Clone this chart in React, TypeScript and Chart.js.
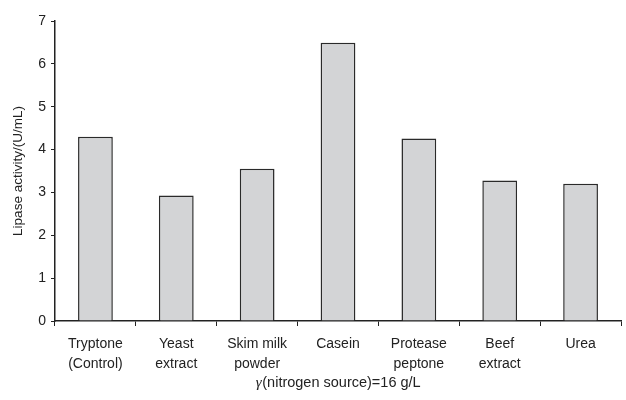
import React, { useEffect, useRef } from "react";
import { Chart, registerables } from "chart.js";

Chart.register(...registerables);

const categories: (string | string[])[] = [
  ["Tryptone", "(Control)"],
  ["Yeast", "extract"],
  ["Skim milk", "powder"],
  "Casein",
  ["Protease", "peptone"],
  ["Beef", "extract"],
  "Urea",
];
const lipaseActivity = [4.3, 2.93, 3.55, 6.49, 4.26, 3.28, 3.2];
const yTicks = [0, 1, 2, 3, 4, 5, 6, 7];
const xTitleSymbol = "γ";
const xTitleRest = "(nitrogen source)=16 g/L";
const yTitle = "Lipase activity/(U/mL)";

const FONT = "'Liberation Sans', Arial, sans-serif";
const INK = "#222222";

const xTitlePlugin = {
  id: "xTitleItalic",
  afterDraw(chart: any) {
    const { ctx, chartArea } = chart;
    const xScale = chart.scales.x;
    ctx.save();
    ctx.fillStyle = INK;
    ctx.textBaseline = "middle";
    const italic = `italic 15px 'Liberation Serif', 'Times New Roman', serif`;
    const normal = `14.5px ${FONT}`;
    ctx.font = italic;
    const w1 = ctx.measureText(xTitleSymbol).width;
    ctx.font = normal;
    const w2 = ctx.measureText(xTitleRest).width;
    const cx = (chartArea.left + chartArea.right) / 2;
    const y = xScale.bottom - 17;
    const x = cx - (w1 + w2) / 2;
    ctx.textAlign = "left";
    ctx.font = italic;
    ctx.fillText(xTitleSymbol, x, y);
    ctx.font = normal;
    ctx.fillText(xTitleRest, x + w1 + 0.5, y);
    ctx.restore();
  },
};

export default function App() {
  const ref = useRef<HTMLCanvasElement | null>(null);
  useEffect(() => {
    document.body.style.margin = "0";
    const ctx = ref.current!.getContext("2d")!;
    const chart = new Chart(ctx, {
      type: "bar",
      data: {
        labels: categories,
        datasets: [
          {
            data: lipaseActivity,
            backgroundColor: "#d3d4d6",
            borderColor: "#2a2a2a",
            borderWidth: 1.5,
            barPercentage: 0.86,
            categoryPercentage: 0.5,
          },
        ],
      },
      plugins: [xTitlePlugin],
      options: {
        animation: false,
        responsive: false,
        layout: { padding: { top: 21, right: 5, left: 0, bottom: 0 } },
        plugins: { legend: { display: false }, tooltip: { enabled: false } },
        scales: {
          x: {
            offset: true,
            grid: {
              offset: true,
              drawOnChartArea: false,
              drawTicks: true,
              tickLength: 5,
              color: INK,
              lineWidth: 1,
            },
            border: { display: true, color: INK, width: 1.5 },
            ticks: {
              color: INK,
              font: { family: FONT, size: 14, lineHeight: 1.43 },
              padding: 8,
              maxRotation: 0,
              autoSkip: false,
            },
            title: { display: false },
            afterFit: (s: any) => {
              s.height = 79;
            },
          },
          y: {
            min: 0,
            max: 7,
            afterBuildTicks: (s: any) => {
              s.ticks = yTicks.map((v) => ({ value: v }));
            },
            grid: {
              drawOnChartArea: false,
              drawTicks: true,
              tickLength: 4,
              color: INK,
            },
            border: { display: true, color: INK, width: 1.5 },
            ticks: {
              color: INK,
              font: { family: FONT, size: 14 },
              padding: 5,
            },
            title: {
              display: true,
              text: yTitle,
              color: INK,
              font: { family: FONT, size: 13.5 },
              padding: { top: 10, bottom: 0 },
            },
            afterFit: (s: any) => {
              s.width = 55;
            },
          },
        },
      },
    });
    return () => chart.destroy();
  }, []);
  return (
    <div style={{ position: "absolute", left: 0, top: 0, width: 626, height: 400, background: "#fff" }}>
      <canvas ref={ref} width={626} height={400} />
    </div>
  );
}
